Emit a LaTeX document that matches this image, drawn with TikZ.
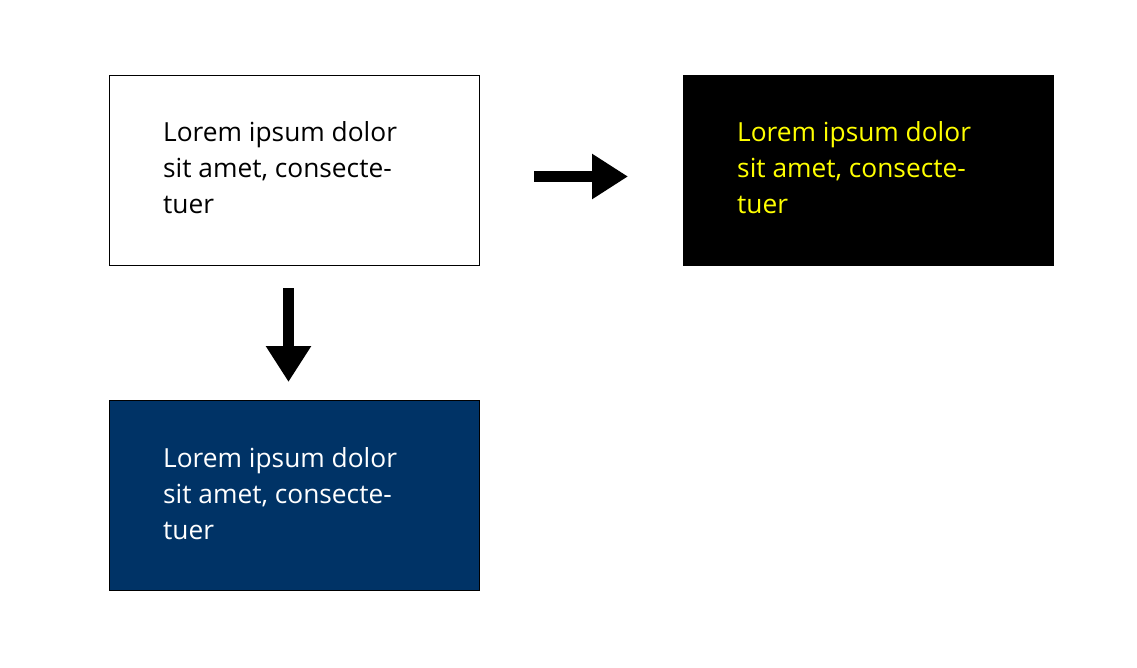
\documentclass[tikz,border=0pt]{standalone}
\usepackage{fontspec}
\setmainfont{Open Sans}
\usetikzlibrary{arrows.meta,calc}
\definecolor{navy}{RGB}{0,51,102}
\definecolor{lyellow}{RGB}{255,255,0}
\begin{document}
\begin{tikzpicture}[x=1pt,y=-1pt,
  box/.style={rectangle,draw=black,line width=1pt,minimum width=370pt,minimum height=190pt,inner sep=0pt},
  txt/.style={anchor=base west,inner sep=0pt,font=\fontsize{26.3}{36}\selectfont},
  bigarrow/.style={line width=11pt,-{Triangle[length=36pt,width=43pt]}}]
\useasboundingbox (0,0) rectangle (1137,668);
\node[box,fill=white] (b1) at (294.5,170.5) {};
\node[box,fill=black] (b2) at (868.5,170.5) {};
\node[box,fill=navy] (b3) at (294.5,495.5) {};
\node[txt,text=black] (t1) at ($(b1.north west)+(54,67)$) {\parbox[t]{300pt}{Lorem ipsum dolor\\sit amet, consecte-\\tuer}};
\node[txt,text=lyellow] (t2) at ($(b2.north west)+(54,67)$) {\parbox[t]{300pt}{Lorem ipsum dolor\\sit amet, consecte-\\tuer}};
\node[txt,text=white] (t3) at ($(b3.north west)+(54,67)$) {\parbox[t]{300pt}{Lorem ipsum dolor\\sit amet, consecte-\\tuer}};
\coordinate (a1s) at (534,176.5);
\coordinate (a1e) at (628,176.5);
\coordinate (a2s) at (288.5,288);
\coordinate (a2e) at (288.5,382);
\draw[bigarrow] (a1s) -- (a1e);
\draw[bigarrow] (a2s) -- (a2e);
\end{tikzpicture}
\end{document}
